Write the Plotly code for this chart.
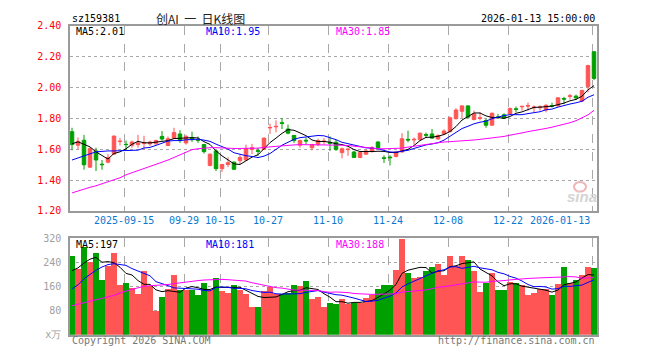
import plotly.graph_objects as go

# ---------------- data ----------------
dates = [
    "2025-09-02", "2025-09-03", "2025-09-04", "2025-09-05", "2025-09-08", "2025-09-09", "2025-09-10", "2025-09-11",
    "2025-09-12", "2025-09-15", "2025-09-16", "2025-09-17", "2025-09-18", "2025-09-19", "2025-09-22", "2025-09-23",
    "2025-09-24", "2025-09-25", "2025-09-26", "2025-09-29", "2025-09-30", "2025-10-09", "2025-10-10", "2025-10-13",
    "2025-10-14", "2025-10-15", "2025-10-16", "2025-10-17", "2025-10-20", "2025-10-21", "2025-10-22", "2025-10-23",
    "2025-10-24", "2025-10-27", "2025-10-28", "2025-10-29", "2025-10-30", "2025-10-31", "2025-11-03", "2025-11-04",
    "2025-11-05", "2025-11-06", "2025-11-07", "2025-11-10", "2025-11-11", "2025-11-12", "2025-11-13", "2025-11-14",
    "2025-11-17", "2025-11-18", "2025-11-19", "2025-11-20", "2025-11-21", "2025-11-24", "2025-11-25", "2025-11-26",
    "2025-11-27", "2025-11-28", "2025-12-01", "2025-12-02", "2025-12-03", "2025-12-04", "2025-12-05", "2025-12-08",
    "2025-12-09", "2025-12-10", "2025-12-11", "2025-12-12", "2025-12-15", "2025-12-16", "2025-12-17", "2025-12-18",
    "2025-12-19", "2025-12-22", "2025-12-23", "2025-12-24", "2025-12-25", "2025-12-26", "2025-12-29", "2025-12-30",
    "2025-12-31", "2026-01-05", "2026-01-06", "2026-01-07", "2026-01-08", "2026-01-09", "2026-01-12", "2026-01-13",
]

open_ = [1.714, 1.626, 1.658, 1.484, 1.589, 1.503, 1.516, 1.568, 1.650, 1.632, 1.626, 1.630, 1.638, 1.635, 1.635,
         1.683, 1.624, 1.672, 1.699, 1.641, 1.676, 1.660, 1.630, 1.495, 1.589, 1.474, 1.501, 1.516, 1.526, 1.530,
         1.599, 1.591, 1.599, 1.738, 1.745, 1.772, 1.731, 1.689, 1.626, 1.658, 1.610, 1.630, 1.650, 1.643, 1.645,
         1.578, 1.597, 1.582, 1.547, 1.568, 1.589, 1.647, 1.545, 1.549, 1.553, 1.582, 1.664, 1.660, 1.662, 1.695,
         1.699, 1.666, 1.699, 1.714, 1.798, 1.846, 1.881, 1.793, 1.800, 1.787, 1.756, 1.810, 1.823, 1.829, 1.862,
         1.875, 1.879, 1.869, 1.869, 1.854, 1.883, 1.881, 1.929, 1.942, 1.944, 1.912, 2.006, 2.232]
high = [1.739, 1.676, 1.693, 1.610, 1.610, 1.530, 1.568, 1.689, 1.672, 1.656, 1.656, 1.693, 1.687, 1.656, 1.662,
        1.718, 1.683, 1.739, 1.724, 1.693, 1.714, 1.683, 1.635, 1.572, 1.593, 1.505, 1.547, 1.522, 1.568, 1.630,
        1.635, 1.610, 1.676, 1.766, 1.787, 1.802, 1.760, 1.693, 1.662, 1.676, 1.635, 1.668, 1.672, 1.683, 1.662,
        1.610, 1.610, 1.589, 1.582, 1.599, 1.620, 1.651, 1.561, 1.561, 1.589, 1.704, 1.720, 1.676, 1.708, 1.708,
        1.731, 1.697, 1.729, 1.812, 1.866, 1.885, 1.885, 1.850, 1.839, 1.798, 1.839, 1.829, 1.833, 1.871, 1.877,
        1.881, 1.902, 1.885, 1.885, 1.892, 1.902, 1.938, 1.940, 1.958, 1.954, 1.986, 2.148, 2.232]
low = [1.593, 1.599, 1.467, 1.480, 1.459, 1.467, 1.509, 1.564, 1.624, 1.593, 1.610, 1.610, 1.597, 1.620, 1.630,
       1.656, 1.620, 1.666, 1.641, 1.630, 1.647, 1.641, 1.572, 1.488, 1.459, 1.453, 1.484, 1.467, 1.505, 1.526,
       1.568, 1.557, 1.595, 1.699, 1.710, 1.731, 1.697, 1.641, 1.610, 1.630, 1.593, 1.620, 1.630, 1.589, 1.589,
       1.541, 1.557, 1.547, 1.541, 1.564, 1.578, 1.605, 1.511, 1.495, 1.547, 1.578, 1.645, 1.630, 1.658, 1.672,
       1.668, 1.662, 1.693, 1.710, 1.793, 1.802, 1.802, 1.787, 1.787, 1.739, 1.752, 1.798, 1.798, 1.823, 1.839,
       1.850, 1.850, 1.839, 1.850, 1.839, 1.871, 1.877, 1.892, 1.923, 1.919, 1.906, 1.969, 2.048]
close = [1.630, 1.651, 1.499, 1.605, 1.530, 1.500, 1.547, 1.685, 1.652, 1.630, 1.647, 1.641, 1.641, 1.647, 1.656,
         1.666, 1.668, 1.708, 1.656, 1.683, 1.662, 1.658, 1.584, 1.568, 1.474, 1.501, 1.513, 1.470, 1.547, 1.605,
         1.610, 1.587, 1.672, 1.741, 1.748, 1.768, 1.704, 1.656, 1.656, 1.654, 1.630, 1.656, 1.653, 1.639, 1.599,
         1.603, 1.600, 1.547, 1.578, 1.589, 1.610, 1.610, 1.541, 1.545, 1.582, 1.668, 1.660, 1.664, 1.704, 1.691,
         1.672, 1.689, 1.718, 1.804, 1.854, 1.881, 1.808, 1.829, 1.804, 1.756, 1.833, 1.806, 1.802, 1.864, 1.858,
         1.878, 1.883, 1.873, 1.873, 1.885, 1.879, 1.933, 1.925, 1.946, 1.933, 1.981, 2.142, 2.059]
volume = [260, 218, 290, 239, 272, 180, 228, 272, 164, 170, 154, 135, 211, 162, 79, 125, 151, 198, 149, 149,
          149, 132, 170, 148, 189, 144, 138, 164, 149, 134, 93, 93, 146, 157, 135, 135, 138, 164, 162, 178,
          119, 125, 93, 106, 103, 119, 100, 106, 106, 121, 132, 151, 166, 166, 215, 317, 203, 187, 192, 212,
          224, 234, 196, 260, 226, 260, 247, 212, 141, 170, 203, 148, 148, 173, 170, 164, 132, 138, 151, 151,
          132, 167, 224, 170, 180, 196, 224, 221]

ma5 = [1.635, 1.648, 1.632, 1.615, 1.583, 1.557, 1.536, 1.573, 1.583, 1.603, 1.632, 1.651, 1.642, 1.641, 1.646,
       1.650, 1.656, 1.669, 1.671, 1.676, 1.675, 1.673, 1.649, 1.631, 1.589, 1.557, 1.528, 1.505, 1.501, 1.527,
       1.549, 1.564, 1.604, 1.643, 1.672, 1.703, 1.727, 1.723, 1.706, 1.688, 1.660, 1.650, 1.650, 1.646, 1.635,
       1.630, 1.619, 1.598, 1.585, 1.583, 1.585, 1.587, 1.586, 1.579, 1.578, 1.589, 1.599, 1.624, 1.656, 1.677,
       1.678, 1.684, 1.695, 1.715, 1.747, 1.789, 1.813, 1.835, 1.835, 1.816, 1.806, 1.806, 1.800, 1.812, 1.833,
       1.842, 1.857, 1.871, 1.873, 1.878, 1.879, 1.889, 1.899, 1.914, 1.923, 1.944, 1.985, 2.012]
ma10 = [1.530, 1.545, 1.557, 1.570, 1.583, 1.588, 1.589, 1.589, 1.590, 1.593, 1.595, 1.594, 1.608, 1.612, 1.625,
        1.641, 1.653, 1.656, 1.656, 1.661, 1.663, 1.665, 1.659, 1.651, 1.633, 1.616, 1.601, 1.577, 1.566, 1.558,
        1.553, 1.546, 1.555, 1.572, 1.599, 1.626, 1.645, 1.664, 1.675, 1.680, 1.682, 1.689, 1.687, 1.676, 1.662,
        1.645, 1.635, 1.624, 1.616, 1.609, 1.607, 1.603, 1.592, 1.582, 1.581, 1.587, 1.593, 1.605, 1.617, 1.628,
        1.634, 1.642, 1.659, 1.685, 1.712, 1.734, 1.749, 1.765, 1.775, 1.782, 1.798, 1.809, 1.818, 1.824, 1.824,
        1.824, 1.831, 1.836, 1.843, 1.856, 1.860, 1.873, 1.885, 1.893, 1.901, 1.911, 1.937, 1.953]
ma30 = [1.317, 1.330, 1.342, 1.353, 1.363, 1.376, 1.388, 1.401, 1.415, 1.434, 1.447, 1.459, 1.472, 1.488, 1.503,
        1.516, 1.530, 1.547, 1.568, 1.584, 1.597, 1.603, 1.607, 1.610, 1.610, 1.607, 1.605, 1.605, 1.605, 1.605,
        1.605, 1.607, 1.612, 1.616, 1.620, 1.624, 1.626, 1.628, 1.630, 1.630, 1.630, 1.630, 1.630, 1.630, 1.628,
        1.626, 1.624, 1.620, 1.616, 1.610, 1.605, 1.603, 1.603, 1.603, 1.603, 1.607, 1.614, 1.620, 1.626, 1.632,
        1.639, 1.645, 1.647, 1.649, 1.651, 1.653, 1.656, 1.660, 1.664, 1.668, 1.672, 1.676, 1.683, 1.691, 1.697,
        1.706, 1.714, 1.720, 1.727, 1.735, 1.743, 1.752, 1.762, 1.772, 1.785, 1.802, 1.823, 1.852]

vma5 = [212, 221, 237, 250, 255.8, 239.8, 241.8, 238.2, 223.2, 202.8, 197.6, 179, 166.8, 166.4, 148.2, 142.4,
        145.6, 143, 140.4, 154.4, 159.2, 155.4, 149.8, 149.6, 157.6, 156.6, 157.8, 156.6, 156.8, 145.8, 135.6,
        126.6, 123, 124.6, 124.8, 133.2, 142.2, 145.8, 146.8, 155.4, 152.2, 149.6, 135.4, 124.2, 109.2, 109.2,
        104.2, 106.8, 106.8, 110.4, 113, 123.2, 135.2, 147.2, 166, 203, 213.4, 217.6, 222.8, 222.2, 203.6, 209.8,
        211.6, 225.2, 228, 235.2, 237.8, 241, 217.2, 206, 194.6, 174.8, 162, 168.4, 168.4, 160.6, 157.4, 155.4,
        151, 147.2, 140.8, 147.8, 165, 168.8, 174.6, 187.4, 198.8, 197.4]
vma10 = [151, 165, 185, 200, 213, 224, 232, 235, 233, 229.3, 218.7, 210.4, 202.5, 194.8, 175.5, 170, 162.3,
         154.9, 153.4, 151.3, 150.8, 150.5, 146.4, 145, 156, 157.9, 156.6, 153.2, 153.2, 151.7, 146.1, 142.2, 139.8,
         140.7, 135.3, 134.4, 134.4, 134.4, 135.7, 140.1, 142.7, 145.9, 140.6, 135.5, 132.3, 130.7, 126.9, 121.1,
         115.5, 109.8, 111.1, 113.7, 121, 127, 138.2, 158, 168.3, 176.4, 185, 194.1, 203.3, 211.6, 214.6, 224,
         225.1, 219.4, 223.8, 226.3, 221.2, 217, 214.9, 206.3, 201.5, 192.8, 187.2, 177.6, 166.1, 158.7, 159.7,
         157.8, 150.7, 152.6, 160.2, 159.9, 160.9, 164.1, 173.3, 181.6]
vma30 = [96, 101, 106, 110, 115, 119, 124, 130, 138, 145, 150, 155, 160, 162, 163, 164, 166, 169, 172, 175, 177,
         179, 181, 182, 183, 183, 182, 180, 178, 177.4, 171.9, 167.7, 162.9, 160.2, 155.6, 154.1, 151.1, 147.5,
         147.4, 147.7, 146.5, 146.2, 142.3, 140.4, 141.2, 141, 139.3, 136.2, 134.8, 133.9, 133.3, 133.9, 133.8,
         134.4, 135.3, 141, 143.2, 144, 145.4, 148, 152.4, 157.1, 158.7, 162.2, 165.2, 169.4, 173, 174.6, 173.9,
         173.6, 176.4, 177.2, 179, 181.3, 183.5, 185, 186.1, 187.1, 188.6, 189.6, 189.6, 190.2, 192.1, 192.2,
         191.1, 187, 187.7, 188.9]

price_ma_labels = ["MA5:2.01", "MA10:1.95", "MA30:1.85"]
vol_ma_labels = ["MA5:197", "MA10:181", "MA30:188"]

tick_dates = ["2025-09-15", "2025-09-29", "2025-10-15", "2025-10-27", "2025-11-10",
              "2025-11-24", "2025-12-08", "2025-12-22", "2026-01-13"]
tick_labels = ["2025-09-15", "09-29", "10-15", "10-27", "11-10", "11-24", "12-08", "12-22", "2026-01-13"]
price_ticks = [1.20, 1.40, 1.60, 1.80, 2.00, 2.20, 2.40]
vol_ticks = [0, 80, 160, 240, 320]
vol_tick_text = ["x万", "80", "160", "240", "320"]

# ---------------- layout helpers ----------------
W, H = 660, 360
def px(v): return v / W
def py(v): return 1 - v / H

X0, X1 = 70, 597          # plot area left / right (pixels)
PT, PB = 20.5, 212        # price panel top / bottom
VT, VB = 240, 340         # volume panel top / bottom
SLOT = 6.0                # pixels per trading day
FIRST = 72                # centre pixel of first candle

n = len(dates)
x = list(range(n))
xr = [(X0 - FIRST) / SLOT, (X1 - FIRST) / SLOT]

RED = "#FF5555"
GREEN = "#00A000"
BLUE = "#0000FF"
MAG = "#FF00FF"
MONO = "DejaVu Sans Mono"
FRAME = "#9A9A9A"
GRID = "#A8A8A8"

tick_idx = [dates.index(d) for d in tick_dates]
grid_x = [k - 0.28 for k in tick_idx]

fig = go.Figure()
fig.add_trace(go.Candlestick(
    x=x, open=open_, high=high, low=low, close=close,
    increasing=dict(line=dict(color=RED, width=1), fillcolor=RED),
    decreasing=dict(line=dict(color=GREEN, width=1), fillcolor=GREEN),
    whiskerwidth=0, xaxis="x", yaxis="y", hoverinfo="skip"))
for ys, col in [(ma5, "black"), (ma10, BLUE), (ma30, MAG)]:
    fig.add_trace(go.Scatter(x=x, y=ys, mode="lines", line=dict(color=col, width=1),
                             xaxis="x", yaxis="y", hoverinfo="skip"))

bar_colors = [RED if c > o else GREEN for o, c in zip(open_, close)]
fig.add_trace(go.Bar(x=x, y=volume, width=0.84, marker=dict(color=bar_colors, line=dict(width=0)),
                     xaxis="x2", yaxis="y2", hoverinfo="skip"))
for ys, col in [(vma5, "black"), (vma10, BLUE), (vma30, MAG)]:
    fig.add_trace(go.Scatter(x=x, y=ys, mode="lines", line=dict(color=col, width=1),
                             xaxis="x2", yaxis="y2", hoverinfo="skip"))

xcommon = dict(range=xr, tickvals=grid_x, showticklabels=False, ticks="",
               showgrid=True, gridcolor=GRID, griddash="dash", gridwidth=1,
               showline=True, mirror=True, linecolor=FRAME, linewidth=1.5,
               zeroline=False, fixedrange=True)

fig.update_layout(
    width=W, height=H, margin=dict(l=0, r=0, t=0, b=0),
    paper_bgcolor="white", plot_bgcolor="white", showlegend=False,
    boxgap=0.16, bargap=0,
    xaxis=dict(domain=[px(X0), px(X1)], anchor="y", rangeslider=dict(visible=False), **xcommon),
    xaxis2=dict(domain=[px(X0), px(X1)], anchor="y2", matches="x", **xcommon),
    yaxis=dict(domain=[py(PB), py(PT)], anchor="x", range=[1.2, 2.4],
               tickvals=price_ticks, ticktext=[f"{v:.2f}" for v in price_ticks],
               tickfont=dict(family=MONO, size=10, color="#FF0000"), ticks="",
               ticklabelstandoff=5,
               showgrid=True, gridcolor=GRID, griddash="dot", gridwidth=1,
               showline=True, mirror=True, linecolor=FRAME, linewidth=1.5,
               zeroline=False, fixedrange=True),
    yaxis2=dict(domain=[py(VB), py(VT)], anchor="x2", range=[0, 320],
                tickvals=vol_ticks, ticktext=vol_tick_text,
                tickfont=dict(family=MONO, size=10, color="#A0A0A0"), ticks="",
                ticklabelstandoff=5,
                showgrid=True, gridcolor=GRID, griddash="dot", gridwidth=1,
                showline=True, mirror=True, linecolor=FRAME, linewidth=1.5,
                zeroline=False, fixedrange=True),
)

ann = []
def text(xp, yp, s, color="black", size=10, anchor="left", family=MONO, **kw):
    ann.append(dict(x=px(xp), y=py(yp), xref="paper", yref="paper", text=s, showarrow=False,
                    xanchor=anchor, yanchor="middle", font=dict(family=family, size=size, color=color), **kw))

# header
text(X0, 12.5, "sz159381", size=10)
text(200, 12.5, "创AI&nbsp;&nbsp;一&nbsp;&nbsp;日K线图", color="#222222", size=12, anchor="center",
     family="Noto Sans CJK SC")
text(X1, 12.5, "2026-01-13 15:00:00", size=10, anchor="right")
# MA legends
for xp, lab, col in zip([74, 204, 334], price_ma_labels, ["black", BLUE, MAG]):
    text(xp, 26.5, lab, color=col)
for xp, lab, col in zip([74, 204, 334], vol_ma_labels, ["black", BLUE, MAG]):
    text(xp, 246.5, lab, color=col)
# footer
text(X0, 346, "Copyright 2026 SINA.COM", color="#777777")
text(X1, 346, "http://finance.sina.com.cn", color="#777777", anchor="right")
# watermark
text(582, 197, "<b><i>sina</i></b>", color="#D4D4D4", size=15, anchor="center", family="Liberation Sans")

# date labels on the x axis
for k, lab in zip(grid_x, tick_labels):
    ann.append(dict(x=k, y=py(221.5), xref="x", yref="paper", text=lab, showarrow=False,
                    xanchor="right" if lab == tick_labels[-1] else "center", yanchor="middle",
                    font=dict(family=MONO, size=10, color="#0A78D2")))

fig.update_layout(annotations=ann)
fig.add_shape(type="circle", xref="paper", yref="paper",
              x0=px(574), x1=px(586), y0=py(192), y1=py(182),
              line=dict(color="#F2B4B4", width=2))
fig.write_html("out.html", config={"displayModeBar": False},
               post_script="document.body.style.margin='0';")
